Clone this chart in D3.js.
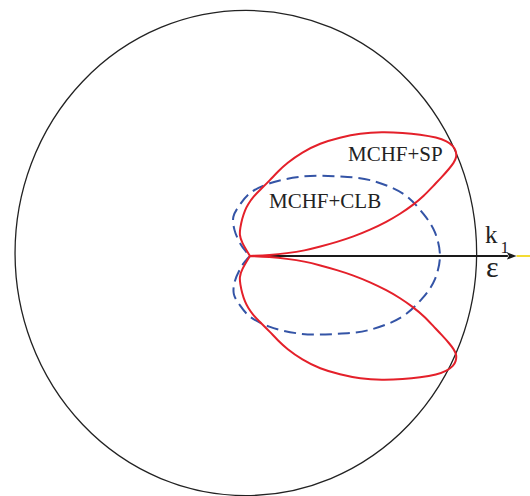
<!DOCTYPE html>
<html>
<head>
<meta charset="utf-8">
<script src="https://cdn.jsdelivr.net/npm/d3@7"></script>
<style>
  html, body { margin: 0; padding: 0; background: #fff; }
  svg { display: block; }
  text { font-family: "Liberation Serif", "Times New Roman", serif; fill: #222; }
</style>
</head>
<body>
<svg id="chart" width="530" height="496"></svg>
<script>
// Polar angular distributions: angle in degrees from the polarisation axis (epsilon),
// radius normalised so the reference circle has radius 1.
// MCHF+SP lobe, traced from the origin along the inner edge, round the tip and back.
const redAngles = [0, 2.7, 4.0, 5.4, 7.2, 8.7, 10.1, 11.7, 13.4, 14.9, 16.6, 18.2, 20.0, 21.4, 22.6, 23.5,
                   24.5, 25.9, 27.2, 29.0, 31.1, 34.2, 37.4, 41.8, 46.7, 51.4, 56.9, 62.2, 67.4, 70.8,
                   74.5, 80.2, 86.7, 92.3, 96.5, 102.8, 110.2, 117.7, 122.5, 122.5];
const redUpper  = [0, 0.087, 0.159, 0.239, 0.306, 0.381, 0.455, 0.531, 0.609, 0.673, 0.738, 0.793, 0.845, 0.893, 0.934, 0.963,
                   0.984, 0.992, 0.991, 0.976, 0.946, 0.891, 0.836, 0.767, 0.695, 0.625, 0.555, 0.483, 0.414, 0.369,
                   0.325, 0.280, 0.245, 0.213, 0.191, 0.156, 0.123, 0.098, 0.069, 0];
const redLower  = [0, 0.087, 0.159, 0.239, 0.306, 0.381, 0.455, 0.531, 0.609, 0.673, 0.738, 0.793, 0.845, 0.893, 0.934, 0.963,
                   0.984, 0.992, 0.991, 0.976, 0.946, 0.891, 0.836, 0.767, 0.695, 0.625, 0.555, 0.483, 0.414, 0.369,
                   0.325, 0.280, 0.245, 0.213, 0.191, 0.156, 0.123, 0.098, 0.069, 0];

// MCHF+CLB contour
const blueAngles = [0, 7, 13, 21, 31, 41, 55, 74, 90, 102, 114, 122, 130, 134, 138];
const blueUpper  = [0.823, 0.807, 0.771, 0.713, 0.607, 0.5, 0.4, 0.312, 0.259, 0.215, 0.177, 0.127, 0.062, 0.025, 0];
const blueLower  = [0.823, 0.806, 0.768, 0.703, 0.595, 0.49, 0.392, 0.303, 0.25, 0.208, 0.172, 0.125, 0.06, 0.025, 0];

const seriesNames = ["MCHF+SP", "MCHF+CLB"];
const axisLabels = ["k", "1", "\u03B5"];

// reference circle (unit radius) and its centre in data units
const circleCentre = [-0.018, 0.0124];
const circleRadius = 1;
// wave-vector arrow along the epsilon axis
const arrowLength = 1.155;
const axisExtent = 1.26;

const svg = d3.select("#chart");

const x = d3.scaleLinear().domain([0, 1]).range([250, 480.8]);
const y = d3.scaleLinear().domain([0, 1]).range([256, 13.4]);

const rad = d => d * Math.PI / 180;
function polarPoints(angles, radii, sign) {
  return angles.map((a, i) => [radii[i] * Math.cos(rad(sign * a)), radii[i] * Math.sin(rad(sign * a))]);
}
const lineThrough = d3.line()
  .x(d => x(d[0]))
  .y(d => y(d[1]))
  .curve(d3.curveCatmullRom.alpha(0.5));
const lineSmooth = d3.line()
  .x(d => x(d[0]))
  .y(d => y(d[1]))
  .curve(d3.curveBasis);

// reference circle
svg.append("ellipse")
  .attr("cx", x(circleCentre[0]))
  .attr("cy", y(circleCentre[1]))
  .attr("rx", x(circleRadius) - x(0))
  .attr("ry", y(0) - y(circleRadius))
  .attr("fill", "none")
  .attr("stroke", "#222")
  .attr("stroke-width", 1.3);

// yellow continuation of the axis past the arrow tip
svg.append("line")
  .attr("x1", x(arrowLength)).attr("y1", y(0))
  .attr("x2", x(axisExtent)).attr("y2", y(0))
  .attr("stroke", "#f2d400")
  .attr("stroke-width", 1.6);

// arrow along epsilon
const headLen = x(arrowLength) - x(arrowLength - 0.042);
svg.append("line")
  .attr("x1", x(0)).attr("y1", y(0))
  .attr("x2", x(arrowLength) - headLen + 1).attr("y2", y(0))
  .attr("stroke", "#1a1a1a")
  .attr("stroke-width", 2);
svg.append("path")
  .attr("d", `M${x(arrowLength)},${y(0)} L${x(arrowLength) - headLen},${y(0) - 3.6} L${x(arrowLength) - headLen + 2},${y(0)} L${x(arrowLength) - headLen},${y(0) + 3.6} Z`)
  .attr("fill", "#1a1a1a");

// MCHF+CLB (blue dashed), one contour from -138 to +138 degrees
const bluePts = polarPoints(blueAngles.slice().reverse(), blueLower.slice().reverse(), -1)
  .concat(polarPoints(blueAngles.slice(1), blueUpper.slice(1), 1));
svg.append("path")
  .attr("d", lineThrough(bluePts))
  .attr("fill", "none")
  .attr("stroke", "#3454a6")
  .attr("stroke-width", 2)
  .attr("stroke-dasharray", "12,6");

// MCHF+SP (red), two lobes meeting at the origin
[[redUpper, 1], [redLower, -1]].forEach(([radii, sign]) => {
  svg.append("path")
    .attr("d", lineSmooth(polarPoints(redAngles, radii, sign)))
    .attr("fill", "none")
    .attr("stroke", "#e4202a")
    .attr("stroke-width", 2);
});

// series labels
svg.append("text").attr("x", 348).attr("y", 161).attr("font-size", 21).text(seriesNames[0]);
svg.append("text").attr("x", 269).attr("y", 208).attr("font-size", 21).text(seriesNames[1]);

// axis labels
svg.append("text").attr("x", 485).attr("y", 242.5).attr("font-size", 25).text(axisLabels[0]);
svg.append("text").attr("x", 500.5).attr("y", 253).attr("font-size", 17).text(axisLabels[1]);
svg.append("text").attr("x", 486).attr("y", 276.5).attr("font-size", 30).text(axisLabels[2]);
</script>
</body>
</html>
